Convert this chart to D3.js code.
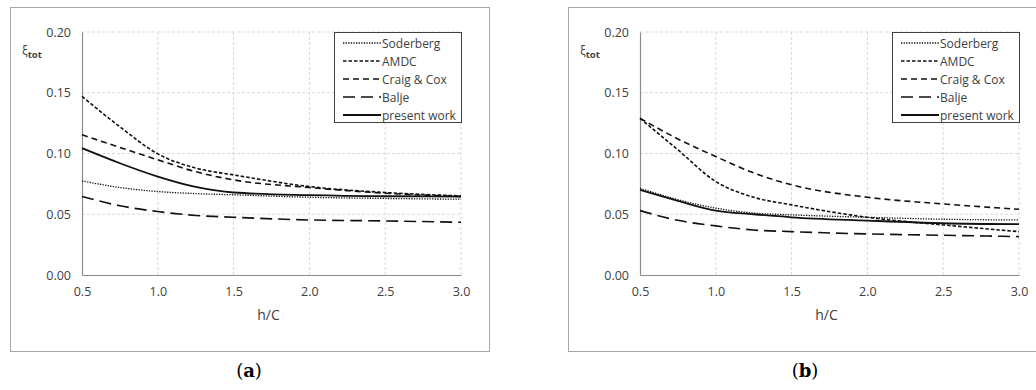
<!DOCTYPE html>
<html><head><meta charset="utf-8">
<script src="https://cdn.jsdelivr.net/npm/d3@7"></script>
<style>body{margin:0;background:#fff}svg{display:block}</style>
</head><body>
<svg id="c" width="1036" height="390"></svg>
<script>
const hC = [0.5, 0.75, 1.0, 1.25, 1.5, 2.0, 2.5, 3.0];
const xTicks = [0.5, 1.0, 1.5, 2.0, 2.5, 3.0];
const yTicks = [0.00, 0.05, 0.10, 0.15, 0.20];
const seriesNames = ["Soderberg", "AMDC", "Craig & Cox", "Balje", "present work"];
// panel (a)
const aSoderberg = [0.0775, 0.072, 0.0687, 0.067, 0.066, 0.064, 0.063, 0.0624];
const aAMDC      = [0.147, 0.122, 0.0997, 0.088, 0.0824, 0.0728, 0.0679, 0.0651];
const aCraigCox  = [0.1154, 0.105, 0.0948, 0.085, 0.0783, 0.072, 0.0673, 0.0646];
const aBalje     = [0.0646, 0.057, 0.0522, 0.049, 0.0475, 0.0453, 0.0445, 0.0434];
const aPresent   = [0.1044, 0.092, 0.081, 0.0725, 0.0679, 0.0657, 0.0648, 0.0646];
// panel (b)
const bSoderberg = [0.0714, 0.062, 0.055, 0.051, 0.0495, 0.0475, 0.0459, 0.0453];
const bAMDC      = [0.129, 0.103, 0.0769, 0.064, 0.0577, 0.0475, 0.0412, 0.0357];
const bCraigCox  = [0.129, 0.112, 0.0975, 0.084, 0.0742, 0.064, 0.0585, 0.0541];
const bBalje     = [0.053, 0.045, 0.0404, 0.037, 0.0357, 0.0338, 0.0327, 0.0316];
const bPresent   = [0.070, 0.061, 0.053, 0.050, 0.0475, 0.0448, 0.0426, 0.0418];

const styles = {
  "Soderberg":   {dash: "1.3,1.3", w: 1.3},
  "AMDC":        {dash: "3.5,2", w: 1.6},
  "Craig & Cox": {dash: "6,4", w: 1.6},
  "Balje":       {dash: "12,6", w: 1.6},
  "present work":{dash: null, w: 1.8}
};

const svg = d3.select("#c");
const font = "'Open Sans', sans-serif";
const txt = "#404040";

function panel(ox, data, label, labelX) {
  const g = svg.append("g");
  g.append("rect").attr("x", ox + 10.5).attr("y", 7.5).attr("width", 479).attr("height", 344)
    .attr("fill", "none").attr("stroke", "#a6a6a6").attr("stroke-width", 1);
  const left = ox + 82, right = ox + 461, top = 32, bottom = 275;
  const x = d3.scaleLinear().domain([0.5, 3.0]).range([left, right]);
  const y = d3.scaleLinear().domain([0, 0.20]).range([bottom, top]);
  g.selectAll(".gx").data(xTicks.slice(1)).join("line")
    .attr("x1", d => x(d)).attr("x2", d => x(d)).attr("y1", top).attr("y2", bottom)
    .attr("stroke", "#d9d9d9").attr("stroke-dasharray", "3,2");
  g.selectAll(".gy").data(yTicks.slice(1)).join("line")
    .attr("x1", left).attr("x2", right).attr("y1", d => y(d)).attr("y2", d => y(d))
    .attr("stroke", "#d9d9d9").attr("stroke-dasharray", "3,2");
  const ax = g.append("g").attr("transform", `translate(0,${bottom})`)
    .call(d3.axisBottom(x).tickValues(xTicks).tickFormat(d3.format(".1f")).tickSize(0).tickPadding(12));
  const ay = g.append("g").attr("transform", `translate(${left},0)`)
    .call(d3.axisLeft(y).tickValues(yTicks).tickFormat(d3.format(".2f")).tickSize(0).tickPadding(11));
  [ax, ay].forEach(a => {
    a.select(".domain").attr("stroke", "#8c8c8c").attr("stroke-width", 1.2);
    a.selectAll("text").attr("fill", txt).style("font-family", font).style("font-size", "12.5px");
  });
  g.append("text").attr("x", (left + right) / 2 - 3).attr("y", 320).attr("text-anchor", "middle")
    .attr("fill", txt).style("font-family", font).style("font-size", "14px").text("h/C");
  const yl = g.append("text").attr("x", ox + 22).attr("y", 55).attr("fill", txt)
    .style("font-family", font).style("font-size", "12px");
  yl.append("tspan").text("ξ");
  yl.append("tspan").attr("dy", 3).style("font-size", "9.5px").style("font-weight", "bold").text("tot");
  const line = d3.line().x((d, i) => x(hC[i])).y(d => y(d)).curve(d3.curveMonotoneX);
  seriesNames.forEach((name, k) => {
    const s = styles[name];
    g.append("path").datum(data[k]).attr("d", line).attr("fill", "none")
      .attr("stroke", "#111").attr("stroke-width", s.w)
      .attr("stroke-dasharray", s.dash);
  });
  const lx = ox + 334, ly = 32;
  g.append("rect").attr("x", lx + 0.5).attr("y", ly + 0.5).attr("width", 127).attr("height", 90)
    .attr("fill", "#fff").attr("stroke", "#404040").attr("stroke-width", 1);
  seriesNames.forEach((name, k) => {
    const s = styles[name];
    const yy = ly + 11 + k * 18;
    g.append("line").attr("x1", lx + 9).attr("x2", lx + 47).attr("y1", yy).attr("y2", yy)
      .attr("stroke", "#111").attr("stroke-width", s.w).attr("stroke-dasharray", s.dash);
    g.append("text").attr("x", lx + 48).attr("y", yy + 4.5).attr("fill", txt)
      .style("font-family", font).style("font-size", "12px").text(name);
  });
  const cap = svg.append("text").attr("x", labelX).attr("y", 377).attr("text-anchor", "middle")
    .style("font-family", "'DejaVu Serif', serif").style("font-size", "18px").attr("fill", "#000");
  cap.append("tspan").text("(");
  cap.append("tspan").style("font-weight", "bold").text(label);
  cap.append("tspan").text(")");
}

panel(0, [aSoderberg, aAMDC, aCraigCox, aBalje, aPresent], "a", 249);
panel(558, [bSoderberg, bAMDC, bCraigCox, bBalje, bPresent], "b", 805);
</script>
</body></html>
